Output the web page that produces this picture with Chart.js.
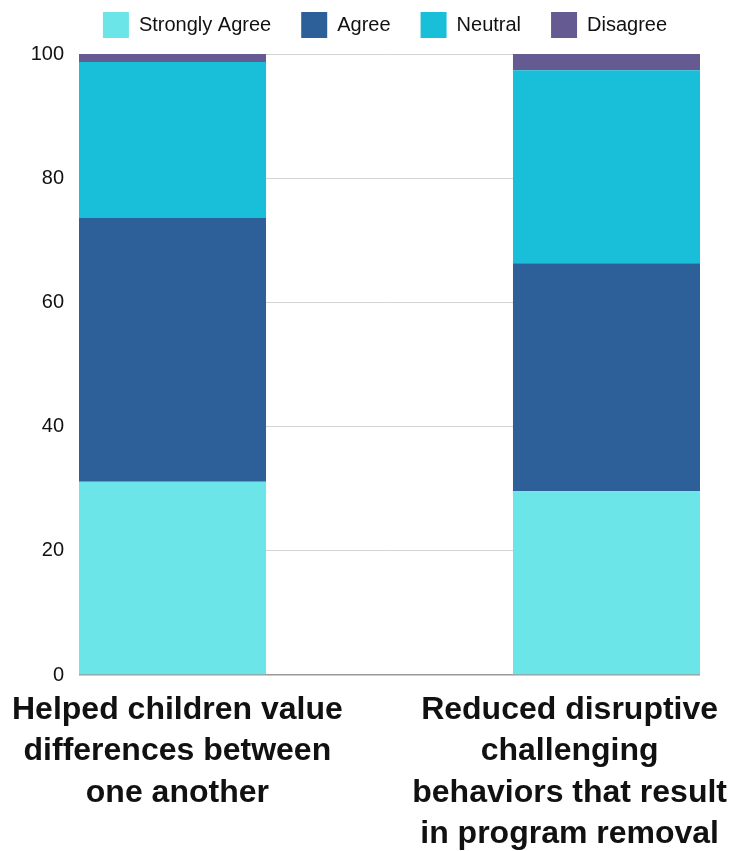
<!DOCTYPE html>
<html>
<head>
<meta charset="utf-8">
<script src="https://cdn.jsdelivr.net/npm/chart.js@4/dist/chart.umd.min.js"></script>
<style>
  html, body { margin: 0; padding: 0; background: #ffffff; }
  #wrap { width: 730px; height: 851px; position: relative; }
</style>
</head>
<body>
<div id="wrap"><canvas id="c"></canvas></div>
<script>
// ---- data ----
const categories = [
  ["Helped children value", "differences between", "one another"],
  ["Reduced disruptive", "challenging", "behaviors that result", "in program removal"]
];
const seriesNames = ["Strongly Agree", "Agree", "Neutral", "Disagree"];
const stronglyAgree = [31.1, 29.6];
const agree = [42.5, 36.7];
const neutral = [25.1, 31.1];
const disagree = [1.3, 2.6];
const yTickValues = [0, 20, 40, 60, 80, 100];

// ---- styles ----
const colors = ['#6BE5E8', '#2D5F99', '#19BED8', '#655A92'];
const FONT = '"Liberation Sans", Arial, Helvetica, sans-serif';

const seriesValues = [stronglyAgree, agree, neutral, disagree];
const datasets = seriesNames.map((name, s) => ({
  label: name,
  data: seriesValues[s].map((v, i) => ({ x: i, y: v })),
  backgroundColor: colors[s],
  borderWidth: 0,
  stack: 'all',
  categoryPercentage: 1,
  barPercentage: 0.431
}));

const legendPlugin = {
  id: 'legendTweak',
  beforeUpdate(chart) {
    const lg = chart.legend;
    if (lg && !lg._patchedFit) {
      const orig = lg.fit.bind(lg);
      lg.fit = function () { orig(); this.height = 72; };
      lg._patchedFit = true;
    }
  },
  afterLayout(chart) {
    const lg = chart.legend;
    if (lg) { lg.left += 35; lg.right += 35; }
  }
};

const xLabelPlugin = {
  id: 'xLabels',
  afterDraw(chart) {
    const { ctx, chartArea } = chart;
    const xs = chart.scales.x;
    ctx.save();
    ctx.font = 'bold 32px ' + FONT;
    ctx.fillStyle = '#111111';
    ctx.textAlign = 'center';
    ctx.textBaseline = 'middle';
    categories.forEach((lines, i) => {
      const px = xs.getPixelForValue(i);
      const maxW = Math.max(...lines.map(l => ctx.measureText(l).width));
      const cx = Math.min(Math.max(px, 12 + maxW / 2), chart.width - 3 - maxW / 2);
      lines.forEach((l, j) => ctx.fillText(l, cx, chartArea.bottom + 35 + j * 41.5));
    });
    ctx.restore();
  }
};

new Chart(document.getElementById('c'), {
  type: 'bar',
  data: { datasets },
  plugins: [legendPlugin, xLabelPlugin],
  options: {
    responsive: true,
    maintainAspectRatio: false,
    animation: false,
    layout: { padding: { top: -18, right: 30, bottom: 176, left: 0 } },
    plugins: {
      tooltip: { enabled: false },
      legend: {
        position: 'top',
        labels: {
          boxWidth: 26,
          boxHeight: 26,
          padding: 30,
          color: '#111111',
          font: { size: 20, family: FONT }
        }
      }
    },
    scales: {
      x: {
        type: 'linear',
        min: -0.2154,
        max: 1.2154,
        offset: false,
        stacked: true,
        afterBuildTicks(scale) {
          scale.ticks = categories.map((c, i) => ({ value: i }));
        },
        ticks: { display: false },
        grid: { display: false, drawTicks: false, offset: false },
        border: { display: false }
      },
      y: {
        stacked: true,
        min: 0,
        max: 100,
        afterBuildTicks(scale) {
          scale.ticks = yTickValues.map(v => ({ value: v }));
        },
        afterFit(scale) { scale.width = 79; },
        ticks: {
          padding: 15,
          color: '#111111',
          font: { size: 20, family: FONT }
        },
        grid: {
          drawTicks: false,
          color: (c) => (c.tick && c.tick.value === 0) ? '#999999' : '#d4d4d4',
          lineWidth: (c) => (c.tick && c.tick.value === 0) ? 1.5 : 1
        },
        border: { display: false }
      }
    }
  }
});
</script>
</body>
</html>
